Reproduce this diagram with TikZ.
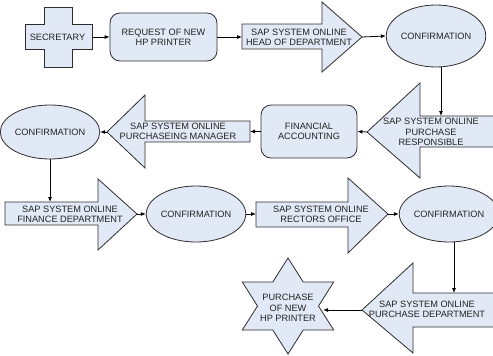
\documentclass[tikz,border=0pt]{standalone}
\usepackage{fontspec}
\setmainfont{Liberation Sans}
\usetikzlibrary{shapes.geometric,arrows.meta}
\definecolor{boxfill}{RGB}{226,233,246}
\definecolor{boxline}{RGB}{45,45,45}
\definecolor{txt}{RGB}{35,35,35}
\begin{document}
\begin{tikzpicture}[x=1pt,y=-1pt,
  shapeline/.style={draw=boxline, fill=boxfill, line width=0.8pt, line join=miter},
  lbl/.style={text=txt, font=\fontsize{9.2}{10.3}\selectfont, align=center, inner sep=0pt},
  ell/.style={shapeline, ellipse, lbl},
  rbox/.style={shapeline, rounded corners=10pt, lbl},
  conn/.style={draw=black, line width=0.8pt, -{Latex[length=5pt,width=4pt]}}]
\useasboundingbox (0,0) rectangle (493,356);

% Secretary cross
\draw[shapeline] (44,7) -- (72,7) -- (72,24) -- (92,24) -- (92,49) -- (72,49) -- (72,67) -- (44,67) -- (44,49) -- (25,49) -- (25,24) -- (44,24) -- cycle;
\node[lbl] (sec) at (57.5,37) {SECRETARY};
\coordinate (sece) at (92,37);

% Request box
\node[rbox, minimum width=107pt, minimum height=48pt] (req) at (163.5,37) {REQUEST OF NEW\\HP PRINTER};

% A1 head of department
\draw[shapeline] (242,24) -- (322,24) -- (322,2) -- (362,37) -- (322,72) -- (322,49) -- (242,49) -- cycle;
\node[lbl] (a1) at (299,37) {SAP SYSTEM ONLINE\\HEAD OF DEPARTMENT};
\coordinate (a1tail) at (242,37);
\coordinate (a1tip) at (362,37);

% Confirmation 1
\node[ell, minimum width=84pt, minimum height=62pt] (conf1) at (436,36) {CONFIRMATION};

% A2 purchase responsible
\draw[shapeline] (500,116) -- (420,116) -- (420,83) -- (367,132) -- (420,178) -- (420,147) -- (500,147);
\node[lbl] (a2) at (431,132) {SAP SYSTEM ONLINE\\PURCHASE\\RESPONSIBLE};
\coordinate (a2top) at (441,116);
\coordinate (a2tip) at (367,132);

% Financial accounting
\node[rbox, minimum width=96pt, minimum height=53pt] (fin) at (309,131.5) {FINANCIAL\\ACCOUNTING};

% A3 purchasing manager
\draw[shapeline] (250,121) -- (145,121) -- (145,95) -- (107,132) -- (145,168) -- (145,142) -- (250,142) -- cycle;
\node[lbl] (a3) at (178,131) {SAP SYSTEM ONLINE\\PURCHASEING MANAGER};
\coordinate (a3tail) at (250,131.5);
\coordinate (a3tip) at (107,132);

% Confirmation 2
\node[ell, minimum width=96pt, minimum height=54pt] (conf2) at (50,132) {CONFIRMATION};

% A4 finance department
\draw[shapeline] (5,202) -- (98,202) -- (98,179) -- (137,214) -- (98,250) -- (98,225) -- (5,225) -- cycle;
\node[lbl] (a4) at (70,214) {SAP SYSTEM ONLINE\\FINANCE DEPARTMENT};
\coordinate (a4top) at (50,202);
\coordinate (a4tip) at (137,214);

% Confirmation 3
\node[ell, minimum width=92pt, minimum height=56pt] (conf3) at (196,214) {CONFIRMATION};

% A5 rectors office
\draw[shapeline] (256,202) -- (348,202) -- (348,178) -- (388,214) -- (348,253) -- (348,227) -- (256,227) -- cycle;
\node[lbl] (a5) at (321,214) {SAP SYSTEM ONLINE\\RECTORS OFFICE};
\coordinate (a5tail) at (256,214);
\coordinate (a5tip) at (388,214);

% Confirmation 4
\node[ell, minimum width=84pt, minimum height=56pt] (conf4) at (449,214) {CONFIRMATION};

% A6 purchase department
\draw[shapeline] (500,293) -- (413,293) -- (413,263) -- (362,310) -- (413,353) -- (413,327) -- (500,327);
\node[lbl] (a6) at (427,309) {SAP SYSTEM ONLINE\\PURCHASE DEPARTMENT};
\coordinate (a6top) at (454,293);
\coordinate (a6tip) at (362,310);

% Star
\draw[shapeline] (288,258) -- (303.2,282) -- (333.7,282) -- (318.5,306) -- (333.7,330) -- (303.2,330) -- (288,354) -- (272.8,330) -- (242.3,330) -- (257.5,306) -- (242.3,282) -- (272.8,282) -- cycle;
\node[lbl] (star) at (288,308) {PURCHASE\\OF NEW\\HP PRINTER};
\coordinate (stare) at (323,310);

% Connectors
\draw[conn] (sece) -- (req.west);
\draw[conn] (req.east) -- (a1tail);
\draw[conn] (a1tip) -- (conf1.west);
\draw[conn] (a2top |- conf1.south) -- (a2top);
\draw[conn] (a2tip) -- (fin.east);
\draw[conn] (fin.west) -- (a3tail);
\draw[conn] (a3tip) -- (conf2.east);
\draw[conn] (conf2.south) -- (a4top);
\draw[conn] (a4tip) -- (conf3.west);
\draw[conn] (conf3.east) -- (a5tail);
\draw[conn] (a5tip) -- (conf4.west);
\draw[conn] (a6top |- conf4.south) -- (a6top);
\draw[conn] (a6tip) -- (stare);
\end{tikzpicture}
\end{document}
